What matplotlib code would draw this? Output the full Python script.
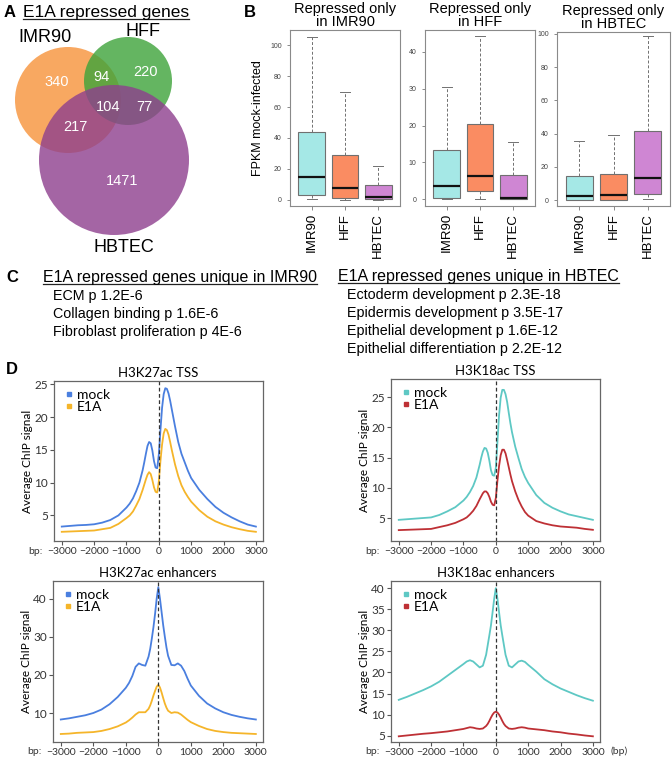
import matplotlib
matplotlib.use('Agg')
from matplotlib import pyplot as plt
from matplotlib import font_manager
from matplotlib.patches import Circle
from matplotlib.lines import Line2D

# ---- data -------------------------------------------------------------
venn_names = ['IMR90', 'HFF', 'HBTEC']
venn_regions = ['IMR90', 'IMR90&HFF', 'HFF', 'all', 'HFF&HBTEC', 'IMR90&HBTEC', 'HBTEC']
venn_counts = [340, 94, 220, 104, 77, 217, 1471]

box_panels = ['IMR90', 'HFF', 'HBTEC']
box_groups = ['IMR90', 'HFF', 'HBTEC']
box_whislo = [[0.5, 0, 0], [0, 0, 0], [0, 0, 0.5]]
box_q1 = [[3.5, 1, 0.3], [0.3, 2.2, 0], [0, 0, 3.5]]
box_med = [[15, 8, 2], [3.7, 6.3, 0.5], [2.5, 3, 13]]
box_q3 = [[44, 29, 9.5], [13.3, 20.5, 6.5], [14.5, 15.5, 41.5]]
box_whishi = [[105, 70, 22], [30.5, 44.2, 15.5], [35.5, 39, 99]]

go_imr90 = ['ECM p 1.2E-6', 'Collagen binding p 1.6E-6', 'Fibroblast proliferation p 4E-6']
go_hbtec = ['Ectoderm development p 2.3E-18', 'Epidermis development p 3.5E-17',
            'Epithelial development p 1.6E-12', 'Epithelial differentiation p 2.2E-12']

tss_bp = [-3000, -2750, -2500, -2250, -2000, -1750, -1500, -1250, -1000,
          -900, -800, -700, -600, -500, -450, -400, -350, -300, -250, -200, -150, -100, -50,
          0,
          50, 100, 150, 200, 250, 300, 350, 400, 450, 500,
          600, 700, 800, 900, 1000,
          1250, 1500, 1750, 2000, 2250, 2500, 2750, 3000]
h3k27_tss_mock = [3.3, 3.4, 3.5, 3.55, 3.65, 3.9, 4.3, 5.0, 6.2,
                  6.8, 7.6, 8.7, 10.0, 11.9, 13.1, 14.4, 15.6, 16.2, 16.0, 14.9, 13.3, 12.3, 12.2,
                  14.3,
                  18.0, 21.4, 23.5, 24.4, 24.3, 23.6, 22.5, 21.2, 19.9, 18.6,
                  16.2, 14.4, 13.1, 11.8, 10.7,
                  8.9, 7.5, 6.3, 5.4, 4.7, 4.1, 3.6, 3.3]
h3k27_tss_e1a = [2.5, 2.55, 2.6, 2.65, 2.7, 2.9, 3.1, 3.7, 4.6,
                 5.0, 5.6, 6.5, 7.5, 8.9, 9.7, 10.5, 11.2, 11.6, 11.3, 10.4, 9.3, 8.6, 8.5,
                 10.2,
                 13.3, 15.8, 17.5, 18.2, 18.0, 17.3, 16.2, 15.0, 13.9, 12.8,
                 11.0, 9.6, 8.6, 7.8, 7.1,
                 5.8, 4.8, 4.1, 3.6, 3.2, 2.9, 2.65, 2.5]
h3k18_tss_mock = [4.7, 4.8, 4.9, 5.0, 5.1, 5.5, 6.1, 6.8, 7.9,
                  8.5, 9.3, 10.3, 11.7, 13.8, 15.0, 16.0, 16.6, 16.5, 15.8, 14.5, 12.9, 12.1, 12.0,
                  13.3,
                  17.6, 22.0, 24.9, 26.2, 26.2, 25.5, 24.2, 22.4, 20.7, 19.2,
                  16.8, 14.9, 13.1, 11.8, 10.8,
                  8.8, 7.5, 6.7, 6.1, 5.6, 5.3, 5.0, 4.7]
h3k18_tss_e1a = [3.0, 3.05, 3.1, 3.15, 3.2, 3.5, 3.8, 4.2, 4.8,
                 5.1, 5.6, 6.2, 7.0, 8.1, 8.6, 9.1, 9.4, 9.4, 9.1, 8.5, 7.7, 7.2, 7.1,
                 8.3,
                 11.2, 13.6, 15.4, 16.3, 16.3, 15.7, 14.6, 13.4, 12.2, 11.1,
                 9.4, 8.0, 6.9, 6.0, 5.4,
                 4.5, 4.1, 3.8, 3.6, 3.5, 3.4, 3.2, 3.05]

enh_bp = [-3000, -2750, -2500, -2250, -2000, -1750, -1500, -1250, -1000,
          -900, -800, -700, -600, -500, -400, -300, -250, -200, -150, -100, -50,
          0,
          50, 100, 150, 200, 250, 300,
          400, 500, 600, 700, 800, 900, 1000,
          1250, 1500, 1750, 2000, 2250, 2500, 2750, 3000]
h3k27_enh_mock = [8.3, 8.6, 9.0, 9.4, 10.0, 10.9, 12.3, 14.2, 16.6,
                  17.9, 19.7, 22.1, 23.0, 22.6, 22.4, 24.8, 26.8, 29.5, 32.5, 36.0, 40.0,
                  43.0,
                  40.0, 36.5, 33.0, 30.0, 27.2, 25.0,
                  22.6, 22.5, 23.0, 22.4, 21.0, 19.0, 17.2,
                  14.5, 12.5, 11.2, 10.2, 9.5, 9.0, 8.6, 8.3]
h3k27_enh_e1a = [4.5, 4.6, 4.8, 4.9, 5.0, 5.3, 5.8, 6.5, 7.5,
                 8.1, 8.8, 9.6, 10.2, 10.2, 10.2, 11.1, 12.0, 13.2, 14.6, 15.8, 16.9,
                 17.4,
                 16.7, 15.4, 13.9, 12.5, 11.4, 10.6,
                 10.0, 10.2, 10.1, 9.6, 8.9, 8.2, 7.6,
                 6.6, 5.8, 5.3, 5.0, 4.8, 4.7, 4.6, 4.5]
h3k18_enh_mock = [13.5, 14.2, 15.0, 15.8, 16.7, 17.8, 19.2, 20.6, 22.0,
                  22.6, 22.9, 22.6, 21.9, 21.2, 21.6, 24.2, 26.5, 28.8, 31.2, 34.3, 37.5,
                  40.0,
                  37.5, 34.3, 31.2, 28.8, 26.5, 24.2,
                  21.6, 21.2, 21.9, 22.6, 22.8, 22.5, 21.8,
                  20.2, 18.4, 17.2, 16.2, 15.4, 14.6, 13.9, 13.3]
h3k18_enh_e1a = [4.85, 5.05, 5.25, 5.45, 5.6, 5.8, 6.0, 6.3, 6.6,
                 6.8, 7.0, 6.9, 6.7, 6.6, 6.7, 7.3, 7.8, 8.5, 9.3, 10.0, 10.5,
                 10.7,
                 10.5, 10.0, 9.3, 8.5, 7.8, 7.3,
                 6.7, 6.6, 6.7, 6.9, 7.0, 6.9, 6.7,
                 6.5, 6.3, 6.0, 5.8, 5.5, 5.3, 5.05, 4.85]

# ---- layout helpers ---------------------------------------------------
W, H = 672, 759
plt.rcParams['font.family'] = ['Liberation Sans', 'DejaVu Sans']
names = {f.name for f in font_manager.fontManager.ttflist}
NARROW = 'Liberation Sans Narrow' in names
C_FAM = ['Liberation Sans Narrow', 'Liberation Sans'] if NARROW else ['Liberation Sans']
D_FAM = ['Lato', 'DejaVu Sans']

fig = plt.figure(figsize=(W / 100, H / 100), dpi=100)


def rect(l, t, r, b):
    return [l / W, 1 - b / H, (r - l) / W, (b - t) / H]


def txt(x, y, s, **kw):
    return fig.text(x / W, 1 - y / H, s, **kw)


def underline(t, y, color='#222222', lw=0.9):
    r = fig.canvas.get_renderer()
    bb = t.get_window_extent(renderer=r)
    fig.add_artist(Line2D([bb.x0 / W, bb.x1 / W], [1 - y / H, 1 - y / H],
                          transform=fig.transFigure, color=color, lw=lw))


# ---- A: venn ------------------------------------------------------------
ov = fig.add_axes([0, 0, 1, 1], zorder=-1)
ov.set_xlim(0, W)
ov.set_ylim(H, 0)
ov.axis('off')

circles = [((68, 100), 53, '#F7923A'), ((128, 81), 44, '#3DA33A'), ((114, 160), 75, '#8E3F8E')]
for (cx, cy), rad, col in circles:
    ov.add_patch(Circle((cx, cy), rad, facecolor=col, edgecolor='none', alpha=0.8))

region_xy = [(57, 82), (101, 77), (145, 72), (108, 107), (144, 107), (75, 127), (122, 181)]
for (x, y), n in zip(region_xy, venn_counts):
    ov.text(x, y, str(n), color='white', fontsize=10.5, ha='center', va='center')
for (x, y), name in zip([(45, 37), (143, 32), (124, 247)], venn_names):
    ov.text(x, y, name, fontsize=13, ha='center', va='center')

txt(4, 17, 'A', fontsize=12, fontweight='bold', va='baseline')
ta = txt(23, 17, 'E1A repressed genes', fontsize=12.5, va='baseline')
underline(ta, 19)

# ---- B: boxplots --------------------------------------------------------
box_rects = [(290, 30, 400, 206), (425, 30, 535, 206), (557, 32, 670, 206)]
box_ylims = [(-3.9, 109.7), (-1.8, 45.9), (-3.6, 101.2)]
box_ticks = [range(0, 101, 20), range(0, 41, 10), range(0, 101, 20)]
box_colors = ['#A5E8E6', '#FA8C62', '#CF86D3']

for i, panel in enumerate(box_panels):
    ax = fig.add_axes(rect(*box_rects[i]))
    stats = []
    for j, g in enumerate(box_groups):
        stats.append(dict(label=g, whislo=box_whislo[i][j], q1=box_q1[i][j], med=box_med[i][j],
                          q3=box_q3[i][j], whishi=box_whishi[i][j], fliers=[]))
    bp = ax.bxp(stats, widths=0.8, patch_artist=True, showfliers=False,
                boxprops=dict(edgecolor='#707070', linewidth=0.8),
                medianprops=dict(color='#111111', linewidth=1.6),
                whiskerprops=dict(color='#707070', linewidth=0.7, linestyle=(0, (3, 2))),
                capprops=dict(color='#707070', linewidth=0.7), capwidths=0.3)
    for patch, col in zip(bp['boxes'], box_colors):
        patch.set_facecolor(col)
    ax.set_xlim(0.35, 3.65)
    ax.set_ylim(*box_ylims[i])
    ax.set_yticks(list(box_ticks[i]))
    ax.tick_params(axis='y', labelsize=5, labelcolor='#444444', color='#777777', length=2.5, width=0.6)
    ax.tick_params(axis='x', labelsize=9.5, rotation=90, color='#777777', length=3, width=0.6, pad=2)
    for s in ax.spines.values():
        s.set_color('#8a8a8a')
        s.set_linewidth(0.8)
    ax.set_title('Repressed only\nin ' + panel, fontsize=10.5, linespacing=0.9, pad=3)
    if i == 0:
        ax.set_ylabel('FPKM mock-infected', fontsize=9, labelpad=4)

txt(244, 17, 'B', fontsize=12, fontweight='bold', va='baseline')

# ---- C: GO terms ----------------------------------------------------------
hs = 14 if NARROW else 11.5
isz = 12.6 if NARROW else 10.3
txt(6, 282, 'C', fontsize=12, fontweight='bold', va='baseline')
t1 = txt(43, 282, 'E1A repressed genes unique in IMR90', family=C_FAM, fontsize=hs, va='baseline')
underline(t1, 284)
t2 = txt(338, 281, 'E1A repressed genes unique in HBTEC', family=C_FAM, fontsize=hs, va='baseline')
underline(t2, 283)
for k, term in enumerate(go_imr90):
    txt(53, 296 + 18 * k, term, family=C_FAM, fontsize=isz, va='center')
for k, term in enumerate(go_hbtec):
    txt(347, 295 + 18 * k, term, family=C_FAM, fontsize=isz, va='center')

# ---- D: ChIP profiles -----------------------------------------------------
blue, gold, teal, red = '#4A7FDF', '#F5B52A', '#5EC8C4', '#BE3035'
chip = [
    ('H3K27ac TSS', (54, 381, 263, 541), tss_bp, h3k27_tss_mock, h3k27_tss_e1a, blue, gold, (1.1, 25.5), range(5, 26, 5)),
    ('H3K18ac TSS', (391, 379, 600, 541), tss_bp, h3k18_tss_mock, h3k18_tss_e1a, teal, red, (1.2, 28.0), range(5, 26, 5)),
    ('H3K27ac enhancers', (53, 581, 263, 742), enh_bp, h3k27_enh_mock, h3k27_enh_e1a, blue, gold, (2.4, 44.6), range(10, 41, 10)),
    ('H3K18ac enhancers', (391, 581, 600, 742), enh_bp, h3k18_enh_mock, h3k18_enh_e1a, teal, red, (3.5, 41.7), range(5, 41, 5)),
]
for title, box, xs, mock, e1a, c1, c2, ylim, yt in chip:
    ax = fig.add_axes(rect(*box))
    ax.plot(xs, mock, color=c1, lw=1.3, solid_joinstyle='round')
    ax.plot(xs, e1a, color=c2, lw=1.3, solid_joinstyle='round')
    ax.axvline(0, color='#333333', lw=0.9, ls=(0, (3, 2)))
    ax.set_xlim(-3240, 3220)
    ax.set_ylim(*ylim)
    ax.set_xticks(range(-3000, 3001, 1000))
    ax.set_yticks(list(yt))
    for lab in ax.get_xticklabels() + ax.get_yticklabels():
        lab.set_family(D_FAM)
    ax.tick_params(axis='x', labelsize=7.5)
    ax.tick_params(axis='y', labelsize=8.5)
    ax.tick_params(labelcolor='#333333', color='#555555', length=3, width=0.8, pad=1.5)
    for s in ax.spines.values():
        s.set_color('#666666')
        s.set_linewidth(0.9)
    ax.set_title(title, family=D_FAM, fontsize=9.5, pad=3)
    ax.set_ylabel('Average ChIP signal', family=D_FAM, fontsize=8.5, labelpad=1)
    handles = [Line2D([], [], ls='none', marker='s', ms=3.5, color=c1),
               Line2D([], [], ls='none', marker='s', ms=3.5, color=c2)]
    ax.legend(handles, ['mock', 'E1A'], loc='upper left', frameon=False, handletextpad=0.1,
              labelspacing=0.05, borderaxespad=0.15, handlelength=1.0,
              prop=dict(family=D_FAM, size=10))
    txt(box[0] - 19, box[3] + 10, 'bp:', family=D_FAM, fontsize=7.5, color='#333333',
        ha='center', va='center')

txt(619, 751, '(bp)', family=D_FAM, fontsize=7.5, color='#333333', ha='center', va='center')
txt(6, 374, 'D', fontsize=12, fontweight='bold', va='baseline')

fig.savefig('out.png', dpi=100)
